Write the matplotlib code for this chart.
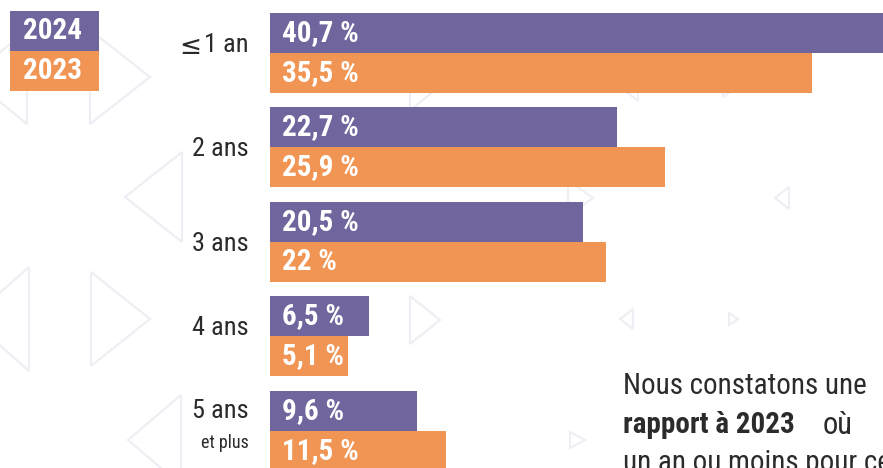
import matplotlib
matplotlib.use("Agg")
import matplotlib.pyplot as plt
from matplotlib import font_manager
from matplotlib.patches import Polygon, Rectangle

# data
categories = ["≤1 an", "2 ans", "3 ans", "4 ans", "5 ans"]
values_2024 = [40.7, 22.7, 20.5, 6.5, 9.6]
values_2023 = [35.5, 25.9, 22.0, 5.1, 11.5]
labels_2024 = ["40,7 %", "22,7 %", "20,5 %", "6,5 %", "9,6 %"]
labels_2023 = ["35,5 %", "25,9 %", "22 %", "5,1 %", "11,5 %"]
years = ["2024", "2023"]

PURPLE = "#70659d"
ORANGE = "#f19555"
TEXT = "#2b2b2b"
TRI = "#eeeef4"

names = {f.name for f in font_manager.fontManager.ttflist}
cond = next((n for n in ["Roboto Condensed", "Archivo Narrow", "PT Sans Narrow"] if n in names), "DejaVu Sans")
plt.rcParams["font.family"] = [cond, "DejaVu Sans"]

W, H = 883, 468
fig = plt.figure(figsize=(W / 100, H / 100), dpi=100)
fig.patch.set_facecolor("white")

# decorative background triangles (pixel coords, y from top)
bg = fig.add_axes([0, 0, 1, 1])
bg.set_xlim(0, W)
bg.set_ylim(H, 0)
bg.axis("off")
tris = [
    # (edge_x, apex_x, center_y, half_height)
    (27, -30, 77, 47), (90, 150, 77, 47), (410, 450, 77, 34), (638, 608, 77, 24), (723, 750, 77, 20),
    (182, 125, 197, 45), (568, 593, 198, 18), (789, 775, 198, 11),
    (29, -30, 319, 52), (91, 150, 319, 47), (410, 440, 320, 24), (633, 620, 319, 10), (729, 738, 319, 6),
    (181, 128, 440, 45), (570, 585, 440, 8),
]
for ex, apx, cy, hh in tris:
    bg.add_patch(Polygon([(ex, cy - hh), (apx, cy), (ex, cy + hh)], closed=True,
                         fill=False, edgecolor=TRI, lw=1.6))

# bars
ax = fig.add_axes([270 / W, 0, 1 - 270 / W, 1])
ax.patch.set_alpha(0)
px_per_pct = 15.27
ax.set_xlim(0, (W - 270) / px_per_pct)
step = 94.5
ax.set_ylim((H - 53) / step, -53 / step)
bh = 40 / step
pos = list(range(len(categories)))
ax.barh([p - bh / 2 for p in pos], values_2024, height=bh, color=PURPLE, lw=0)
ax.barh([p + bh / 2 for p in pos], values_2023, height=bh, color=ORANGE, lw=0)
ax.axis("off")

for p, l24, l23 in zip(pos, labels_2024, labels_2023):
    ax.annotate(l24, (0, p - bh / 2), xytext=(12, 0), textcoords="offset pixels",
                color="white", fontsize=21, fontweight="bold", va="center", ha="left")
    ax.annotate(l23, (0, p + bh / 2), xytext=(12, 0), textcoords="offset pixels",
                color="white", fontsize=21, fontweight="bold", va="center", ha="left")

offsets = [8, -2, -2, 8, 20]
for p, cat, off in zip(pos, categories, offsets):
    if cat.startswith("≤"):
        ax.annotate(cat[1:], (0, p), xytext=(-21, off), textcoords="offset pixels",
                    color=TEXT, fontsize=19, va="center", ha="right")
        ax.annotate(cat[0], (0, p), xytext=(-69, off - 2), textcoords="offset pixels",
                    color=TEXT, fontsize=19, va="center", ha="right",
                    family=["DejaVu Sans"], fontweight="normal")
    else:
        ax.annotate(cat, (0, p), xytext=(-21, off), textcoords="offset pixels",
                    color=TEXT, fontsize=19, va="center", ha="right")
ax.annotate("et plus", (0, pos[-1]), xytext=(-21, -12), textcoords="offset pixels",
            color=TEXT, fontsize=13, va="center", ha="right")

# legend
lg = fig.add_axes([0, 0, 1, 1])
lg.set_xlim(0, W)
lg.set_ylim(H, 0)
lg.axis("off")
for i, (yr, col) in enumerate(zip(years, [PURPLE, ORANGE])):
    lg.add_patch(Rectangle((10, 11 + 40 * i), 89, 40, color=col, lw=0))
    lg.text(53, 31 + 40 * i, yr, color="white", fontsize=21, fontweight="bold",
            ha="center", va="center")

# bottom-right paragraph
lg.text(623, 386, "Nous constatons une", color=TEXT, fontsize=21, va="center", ha="left")
lg.text(623, 425, "rapport à 2023", color=TEXT, fontsize=21, fontweight="bold",
        va="center", ha="left")
lg.text(823, 425, "où", color=TEXT, fontsize=22, va="center", ha="left")
lg.text(623, 463, "un an ou moins pour ce", color=TEXT, fontsize=21, va="center", ha="left")

fig.savefig("out.png", dpi=100, facecolor="white")
